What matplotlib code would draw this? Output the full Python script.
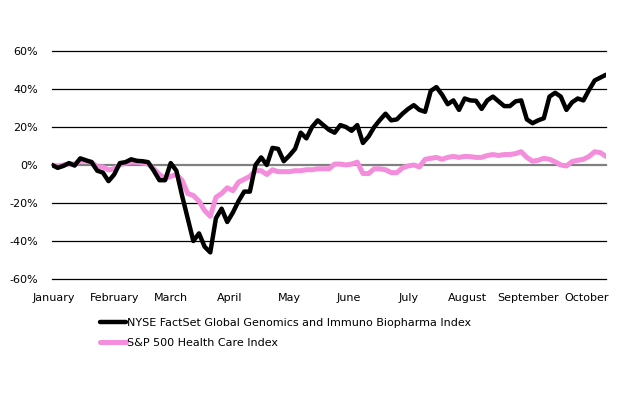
import numpy as np
import matplotlib.pyplot as plt

# data: cumulative % change, sampled every 2 trading days from Jan 2
genomics = [0, -1.5, -0.5, 1, -0.3, 3.5, 2.5, 1.5, -3, -4,
            -8.5, -5, 1, 1.5, 3, 2.2, 2, 1.5, -3, -8,
            -8, 1, -3, -16, -28, -40, -36, -43, -46, -28,
            -23, -30, -25, -19, -14, -14, 0, 4, 0, 9,
            8.5, 2, 5, 8.5, 17, 14, 20, 23.5, 21, 18.5,
            17, 21, 20, 18, 21, 11.6, 15, 20, 23.7, 27,
            23.5, 24, 27, 29.5, 31.5, 29, 28, 39, 41, 37,
            32, 34, 29, 35, 34, 33.8, 29.5, 34, 36, 33.5,
            31, 31, 33.5, 34, 24, 22, 23.5, 24.6, 36, 38,
            36, 29, 33, 35, 34, 39.5, 44.5, 46, 47.5]
healthcare = [0, -0.5, 0, 0.5, 0.5, 2, 2, 1.5, -1, -1,
              -2.6, -2, 0, 1, 1.5, 1.5, 1, 0.5, -2, -5,
              -7, -6, -5, -8, -15, -16, -19, -24, -27, -17,
              -15, -12, -13.5, -9, -7.5, -6, -3, -3, -5, -2.5,
              -3.5, -3.5, -3.5, -3, -3, -2.5, -2.5, -2, -2, -2,
              0.5, 0.5, 0, 0.5, 1.5, -4.5, -4.5, -2, -2, -2.5,
              -4, -4, -1.5, -0.5, 0, -1, 3, 3.5, 4, 3,
              4, 4.5, 4, 4.5, 4.4, 4, 4, 5, 5.5, 5,
              5.5, 5.5, 6, 7, 4, 2, 2.5, 3.5, 3, 1.7,
              0, -0.5, 1.8, 2.5, 3, 4.5, 7, 6.5, 4.5]

months = ["January", "February", "March", "April", "May", "June",
          "July", "August", "September", "October"]
month_pos = [0.5, 22, 42, 63, 84, 105, 126, 147, 168.5, 189]  # trading-day index
yticks = [-60, -40, -20, 0, 20, 40, 60]

days = np.arange(len(genomics)) * 2

fig = plt.figure(figsize=(6.2, 3.98), dpi=100)
ax = fig.add_axes([52/620, 1 - 279/398, (606 - 52)/620, (279 - 51)/398])

for y in yticks:
    if y == 0:
        ax.axhline(y, color="#808080", lw=1.6, zorder=1, clip_on=False)
    else:
        ax.axhline(y, color="black", lw=0.9, zorder=1, clip_on=False)

ax.plot(days, healthcare, color="#f48ddb", lw=3.6, solid_capstyle="round",
        label="S&P 500 Health Care Index", zorder=2)
ax.plot(days, genomics, color="black", lw=3.2, solid_capstyle="round",
        label="NYSE FactSet Global Genomics and Immuno Biopharma Index", zorder=3)

ax.set_xlim(0, days[-1])
ax.set_ylim(-60, 60)
ax.set_yticks(yticks)
ax.set_yticklabels([f"{v}%" for v in yticks], fontsize=8)
ax.set_xticks(month_pos)
ax.set_xticklabels(months, fontsize=8)
ax.tick_params(length=0, axis="y", pad=10)
ax.tick_params(length=0, axis="x", pad=10)
for s in ax.spines.values():
    s.set_visible(False)

h, l = ax.get_legend_handles_labels()
fig.legend(h[::-1], l[::-1], loc="center left", bbox_to_anchor=(100/620, 1 - 333/398),
           frameon=False, fontsize=8, handlelength=2.3, handletextpad=0.1,
           labelspacing=0.95, borderpad=0, borderaxespad=0)

fig.savefig("out.png", dpi=100)
